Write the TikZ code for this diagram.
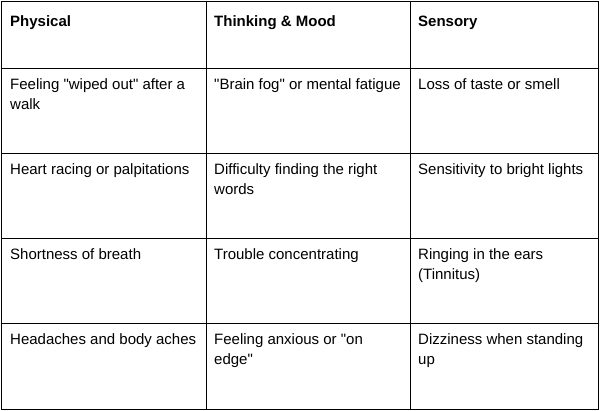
\documentclass[tikz,border=0pt]{standalone}
\usepackage{fontspec}
\setmainfont{Liberation Sans}
\newfontfamily\nqfont{Liberation Sans}
\newcommand{\qq}{{\nqfont\symbol{34}}}
\begin{document}
\begin{tikzpicture}[x=1pt,y=-1pt,
  cell/.style={anchor=base west,inner sep=0pt,align=left,font=\fontsize{15}{20}\selectfont},
  head/.style={cell,font=\fontsize{15}{20}\selectfont\bfseries},
  grid/.style={draw=black,line width=0.8pt}]
\useasboundingbox (0,0) rectangle (600,411);
\draw[grid] (1,1) rectangle (598,409);
\foreach \x in {206,410} \draw[grid] (\x,1) -- (\x,409);
\foreach \y in {68,153,238,323} \draw[grid] (1,\y) -- (598,\y);
\node[head] (h1) at (10,27) {Physical};
\node[head] (h2) at (214,27) {Thinking \& Mood};
\node[head] (h3) at (418,27) {Sensory};
\node[cell] (a1) at (10,110) {Feeling \qq wiped out\qq{} after a\\walk};
\node[cell] (a2) at (214,90) {\qq Brain fog\qq{} or mental fatigue};
\node[cell] (a3) at (418,90) {Loss of taste or smell};
\node[cell] (b1) at (10,175) {Heart racing or palpitations};
\node[cell] (b2) at (214,195) {Difficulty finding the right\\words};
\node[cell] (b3) at (418,175) {Sensitivity to bright lights};
\node[cell] (c1) at (10,260) {Shortness of breath};
\node[cell] (c2) at (214,260) {Trouble concentrating};
\node[cell] (c3) at (418,280) {Ringing in the ears\\(Tinnitus)};
\node[cell] (d1) at (10,345) {Headaches and body aches};
\node[cell] (d2) at (214,365) {Feeling anxious or \qq on\\edge\qq};
\node[cell] (d3) at (418,365) {Dizziness when standing\\up};
\end{tikzpicture}
\end{document}
